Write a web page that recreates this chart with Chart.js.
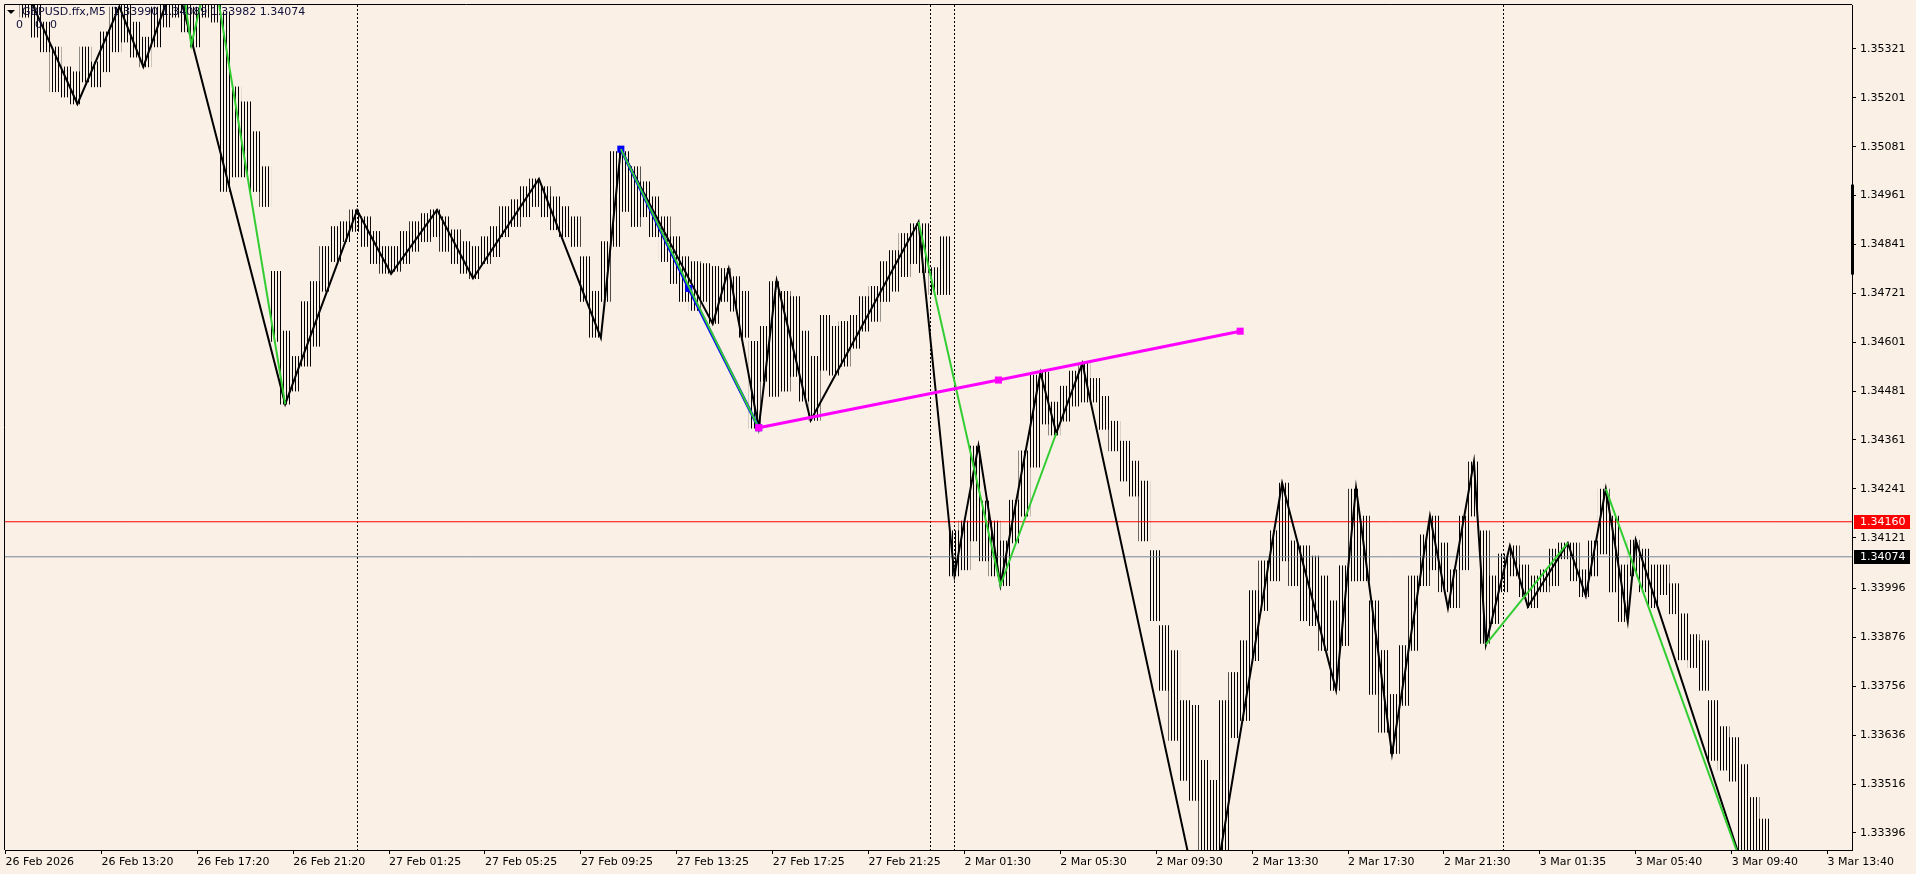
<!DOCTYPE html>
<html>
<head>
<meta charset="utf-8">
<title>GBPUSD.ffx,M5</title>
<script src="https://cdn.jsdelivr.net/npm/chart.js@4.4.1/dist/chart.umd.min.js"></script>
<style>
  html, body { margin: 0; padding: 0; background: #faf0e6; overflow: hidden; }
  canvas { display: block; }
</style>
</head>
<body>
<canvas id="gbpChart" width="1916" height="874"></canvas>
<script>
// GBPUSD M5, bar index 0 = 26 Feb 09:20 (one index = one 5 min bar)

const symbolText = 'GBPUSD.ffx,M5';
const lastBarOHLC = ['1.33990', '1.34089', '1.33982', '1.34074'];

const xTickLabels = ['26 Feb 2026', '26 Feb 13:20', '26 Feb 17:20', '26 Feb 21:20', '27 Feb 01:25',
  '27 Feb 05:25', '27 Feb 09:25', '27 Feb 13:25', '27 Feb 17:25', '27 Feb 21:25',
  '2 Mar 01:30', '2 Mar 05:30', '2 Mar 09:30', '2 Mar 13:30', '2 Mar 17:30',
  '2 Mar 21:30', '3 Mar 01:35', '3 Mar 05:40', '3 Mar 09:40', '3 Mar 13:40'];
const barsPerLabel = 48;

const yTickLabels = ['1.35321', '1.35201', '1.35081', '1.34961', '1.34841', '1.34721', '1.34601',
  '1.34481', '1.34361', '1.34241', '1.34121', '1.33996', '1.33876', '1.33756', '1.33636',
  '1.33516', '1.33396'];

// price bars, every 5th bar (high / low of that stretch)
const barIndex = [0,5,10,15,20,25,30,35,40,45,50,55,60,65,70,75,80,85,90,95,
  100,105,110,115,120,125,130,135,140,145,150,155,160,165,170,175,180,185,190,195,
  200,205,210,215,220,225,230,235,240,245,250,255,260,265,270,275,280,285,290,295,
  300,305,310,315,320,325,330,335,340,345,350,355,360,365,370,375,380,385,390,395,
  400,405,410,415,420,425,430,435,440,445,450,455,460,465,470,475,480,485,490,495,
  500,505,510,515,520,525,530,535,540,545,550,555,560,565,570,575,580,585,590,595,
  600,605,610,615,620,625,630,635,640,645,650,655,660,665,670,675,680,685,690,695,
  700,705,710,715,720,725,730,735,740,745,750,755,760,765,770,775,780,785,790,795,
  800,805,810,815,820,825,830,835,840,845,850,855,860,865,870,875,880];
const barHigh = [1.35546,1.35534,1.35485,1.35436,1.35387,1.35326,1.35277,1.35265,1.35326,1.35289,
  1.35363,1.35424,1.35436,1.35387,1.35350,1.35424,1.35461,1.35497,1.35448,1.35424,
  1.35461,1.35473,1.35412,1.35228,1.35191,1.35118,1.35032,1.34775,1.34628,1.34566,
  1.34701,1.34750,1.34836,1.34885,1.34897,1.34926,1.34909,1.34873,1.34836,1.34836,
  1.34873,1.34897,1.34917,1.34926,1.34909,1.34877,1.34848,1.34836,1.34860,1.34885,
  1.34934,1.34951,1.34983,1.35002,1.34983,1.34958,1.34934,1.34909,1.34811,1.34726,
  1.34848,1.35069,1.35069,1.35032,1.34995,1.34958,1.34909,1.34860,1.34811,1.34799,
  1.34794,1.34787,1.34782,1.34762,1.34726,1.34603,1.34640,1.34750,1.34726,1.34713,
  1.34628,1.34566,1.34667,1.34640,1.34652,1.34667,1.34713,1.34738,1.34799,1.34826,
  1.34868,1.34892,1.34892,1.34784,1.34860,1.34138,1.34162,1.34346,1.34211,1.34162,
  1.34113,1.34213,1.34334,1.34520,1.34527,1.34454,1.34493,1.34530,1.34549,1.34512,
  1.34468,1.34407,1.34358,1.34309,1.34260,1.34089,1.33905,1.33844,1.33721,1.33709,
  1.33574,1.33525,1.33721,1.33790,1.33868,1.33991,1.34064,1.34138,1.34255,1.34113,
  1.34101,1.34076,1.34027,1.33966,1.34052,1.34240,1.34174,1.33966,1.33844,1.33736,
  1.33856,1.34027,1.34128,1.34174,1.34108,1.34042,1.34174,1.34307,1.34138,1.34027,
  1.34081,1.34101,1.34054,1.34027,1.34042,1.34093,1.34108,1.34108,1.34042,1.34113,
  1.34240,1.34174,1.34054,1.34115,1.34093,1.34054,1.34054,1.34008,1.33934,1.33883,
  1.33868,1.33721,1.33657,1.33630,1.33564,1.33483,1.33430];
const barLow = [1.35448,1.35436,1.35399,1.35350,1.35314,1.35216,1.35203,1.35186,1.35240,1.35228,
  1.35265,1.35314,1.35338,1.35301,1.35277,1.35326,1.35375,1.35399,1.35363,1.35326,
  1.35399,1.35387,1.34971,1.35007,1.35007,1.34971,1.34934,1.34603,1.34449,1.34481,
  1.34542,1.34591,1.34726,1.34799,1.34848,1.34873,1.34836,1.34794,1.34770,1.34775,
  1.34794,1.34824,1.34848,1.34860,1.34824,1.34794,1.34770,1.34757,1.34794,1.34811,
  1.34860,1.34885,1.34909,1.34934,1.34909,1.34877,1.34860,1.34836,1.34701,1.34613,
  1.34701,1.34836,1.34922,1.34885,1.34909,1.34860,1.34799,1.34745,1.34701,1.34679,
  1.34701,1.34647,1.34701,1.34677,1.34613,1.34390,1.34505,1.34468,1.34481,1.34517,
  1.34456,1.34409,1.34532,1.34520,1.34542,1.34586,1.34628,1.34652,1.34701,1.34726,
  1.34762,1.34794,1.34772,1.34718,1.34718,1.34027,1.34042,1.34113,1.34064,1.34027,
  1.34003,1.34108,1.34174,1.34294,1.34400,1.34373,1.34407,1.34444,1.34454,1.34454,
  1.34387,1.34334,1.34260,1.34223,1.34113,1.33917,1.33746,1.33623,1.33525,1.33476,
  1.33140,1.33280,1.33354,1.33630,1.33672,1.33819,1.33942,1.34015,1.34064,1.34003,
  1.33917,1.33905,1.33844,1.33746,1.33856,1.34015,1.34015,1.33736,1.33643,1.33591,
  1.33709,1.33844,1.34003,1.34042,1.33988,1.33949,1.34042,1.34174,1.33861,1.33910,
  1.33988,1.34027,1.33976,1.33949,1.33988,1.34003,1.34069,1.34015,1.33976,1.34027,
  1.34081,1.33988,1.33915,1.34027,1.33988,1.33949,1.33981,1.33934,1.33821,1.33802,
  1.33746,1.33574,1.33550,1.33523,1.33292,1.33329,1.33341];

// black zigzag turning points
const zigzagIndex = [4,36,57,69,85,140,176,193,216,234,267,298,308,354,362,377,386,403,457,475,
  487,498,518,526,539,601,639,666,676,694,713,722,735,741,753,762,782,791,801,812,816,871];
const zigzagPrice = [1.35534,1.35186,1.35425,1.35277,1.35497,1.34449,1.34925,1.34769,1.34926,1.34758,
  1.35002,1.34612,1.35075,1.34646,1.34781,1.34391,1.34752,1.34409,1.34896,1.34028,
  1.34347,1.34004,1.34526,1.34378,1.34549,1.33140,1.34255,1.33747,1.34243,1.33590,
  1.34174,1.33948,1.34307,1.33859,1.34101,1.33951,1.34108,1.33978,1.34241,1.33915,
  1.34115,1.33292];

// green legs (null = break between legs)
const greenIndex = [88,93,103,140,null,308,377,null,457,498,526,null,741,782,null,801,871];
const greenPrice = [1.35497,1.35331,1.35545,1.34449,null,1.35075,1.34391,null,1.34896,1.34004,1.34378,null,
  1.33859,1.34108,null,1.34241,1.33292];

// trendline objects (start, middle handle, end)
const blueIndex = [308, 342, 377];
const bluePrice = [1.35075, 1.34733, 1.34391];
const magentaIndex = [377, 497, 618];
const magentaPrice = [1.34391, 1.34508, 1.34628];

// day separators
const separatorIndex = [176, 463, 475, 750];

const bidPrice = 1.34160;
const closePrice = 1.34074;
const axisMarker = [1.34988, 1.34767];

const xMin = -0.25;
const xMax = 924.25;
const yMin = 1.33354;
const yMax = 1.35429;

const axisFont = { family: 'DejaVu Sans', size: 11 };

function points(xs, ys) {
  return xs.map((x, n) => ({ x: x, y: ys[n] }));
}

// hairline fill so each sampled stretch reads like a run of thin bars
function hairlines() {
  const p = document.createElement('canvas');
  p.width = 3;
  p.height = 1;
  const pc = p.getContext('2d');
  pc.fillStyle = '#000000';
  pc.fillRect(1, 0, 1, 1);
  return document.createElement('canvas').getContext('2d').createPattern(p, 'repeat');
}

// split green legs at null
const greenLegs = [];
let leg = [];
greenIndex.forEach((x, n) => {
  if (x === null) { greenLegs.push(leg); leg = []; }
  else leg.push({ x: x, y: greenPrice[n] });
});
greenLegs.push(leg);

const datasets = [
  {
    type: 'bar',
    data: barIndex.map((x, n) => ({ x: x, y: [barLow[n], barHigh[n]] })),
    backgroundColor: hairlines(),
    borderWidth: 0,
    barThickness: 11,
    grouped: false,
    order: 10
  },
  {
    type: 'line',
    data: [{ x: xMin, y: bidPrice }, { x: xMax, y: bidPrice }],
    borderColor: '#ff0000', borderWidth: 1, pointRadius: 0, order: 9
  },
  {
    type: 'line',
    data: [{ x: xMin, y: closePrice }, { x: xMax, y: closePrice }],
    borderColor: '#778899', borderWidth: 1, pointRadius: 0, order: 9
  },
  {
    type: 'line',
    data: points(zigzagIndex, zigzagPrice),
    borderColor: '#000000', borderWidth: 2, pointRadius: 0, tension: 0, order: 5
  },
  {
    type: 'line',
    data: points(blueIndex, bluePrice),
    borderColor: '#0000ff', borderWidth: 3,
    pointStyle: 'rect', pointRadius: 5, pointBackgroundColor: '#0000ff', pointBorderWidth: 0,
    order: 4
  }
];

greenLegs.forEach(g => {
  datasets.push({
    type: 'line', data: g,
    borderColor: '#32cd32', borderWidth: 2, pointRadius: 0, tension: 0, order: 3
  });
});

datasets.push({
  type: 'line',
  data: points(magentaIndex, magentaPrice),
  borderColor: '#ff00ff', borderWidth: 3,
  pointStyle: 'rect', pointRadius: 5, pointBackgroundColor: '#ff00ff', pointBorderWidth: 0,
  order: 2
});

const chartDecor = {
  id: 'chartDecor',
  beforeDraw(chart) {
    const c = chart.ctx;
    c.save();
    c.fillStyle = '#faf0e6';
    c.fillRect(0, 0, chart.width, chart.height);
    c.restore();
  },
  beforeDatasetsDraw(chart) {
    const c = chart.ctx;
    const a = chart.chartArea;
    const x = chart.scales.x;
    c.save();
    c.strokeStyle = '#000000';
    c.lineWidth = 1;
    c.setLineDash([2, 2]);
    separatorIndex.forEach(i => {
      const px = Math.floor(x.getPixelForValue(i)) + 0.5;
      c.beginPath();
      c.moveTo(px, a.top);
      c.lineTo(px, a.bottom);
      c.stroke();
    });
    c.restore();
  },
  afterDraw(chart) {
    const c = chart.ctx;
    const a = chart.chartArea;
    const y = chart.scales.y;
    c.save();

    // frame left / top
    c.strokeStyle = '#000000';
    c.lineWidth = 1;
    c.beginPath();
    c.moveTo(a.left - 0.5, a.bottom);
    c.lineTo(a.left - 0.5, a.top - 0.5);
    c.lineTo(a.right, a.top - 0.5);
    c.stroke();

    // thick marker on the price axis
    const m1 = y.getPixelForValue(axisMarker[0]);
    const m2 = y.getPixelForValue(axisMarker[1]);
    c.fillStyle = '#000000';
    c.fillRect(y.left - 1, m1, 3, m2 - m1);

    // price tags
    c.font = '11px "DejaVu Sans"';
    c.textBaseline = 'middle';
    [[bidPrice, '#ff0000'], [closePrice, '#000000']].forEach(([p, col]) => {
      const py = Math.round(y.getPixelForValue(p));
      c.fillStyle = col;
      c.fillRect(y.left + 2, py - 7, 56, 14);
      c.fillStyle = '#ffffff';
      c.fillText(p.toFixed(5), y.left + 8, py + 0.5);
    });

    // header
    c.fillStyle = '#000000';
    c.beginPath();
    c.moveTo(7, 10);
    c.lineTo(15, 10);
    c.lineTo(11, 14);
    c.closePath();
    c.fill();
    c.fillStyle = '#10103a';
    c.fillText(symbolText + '  ' + lastBarOHLC.join(' '), 22, 12);
    c.fillText('0', 16, 25.5);
    c.fillText('0', 35, 25.5);
    c.fillText('0', 50, 25.5);
    c.restore();
  }
};

new Chart(document.getElementById('gbpChart'), {
  type: 'bar',
  data: { datasets: datasets },
  options: {
    responsive: false,
    animation: false,
    events: [],
    devicePixelRatio: 1,
    layout: { padding: { left: 3, top: 3, right: 0, bottom: 0 } },
    plugins: { legend: { display: false }, tooltip: { enabled: false } },
    scales: {
      x: {
        type: 'linear',
        min: xMin,
        max: xMax,
        offset: false,
        afterBuildTicks: s => { s.ticks = xTickLabels.map((t, n) => ({ value: n * barsPerLabel })); },
        afterFit: s => { s.height = 24; s.paddingLeft = 0; s.paddingRight = 0; },
        grid: { drawOnChartArea: false, offset: false, tickLength: 4, color: '#000000' },
        border: { color: '#000000', width: 1 },
        ticks: {
          align: 'start', autoSkip: false, maxRotation: 0, minRotation: 0, padding: 2,
          color: '#000000', font: axisFont,
          callback: (v, n) => xTickLabels[n]
        }
      },
      y: {
        type: 'linear',
        position: 'right',
        min: yMin,
        max: yMax,
        afterBuildTicks: s => { s.ticks = yTickLabels.map(t => ({ value: parseFloat(t) })); },
        afterFit: s => { s.width = 64; s.paddingTop = 0; s.paddingBottom = 0; },
        grid: { drawOnChartArea: false, tickLength: 4, color: '#000000' },
        border: { color: '#000000', width: 1 },
        ticks: {
          autoSkip: false, padding: 4, color: '#000000', font: axisFont,
          callback: (v, n) => yTickLabels[n]
        }
      }
    }
  },
  plugins: [chartDecor]
});
</script>
</body>
</html>
